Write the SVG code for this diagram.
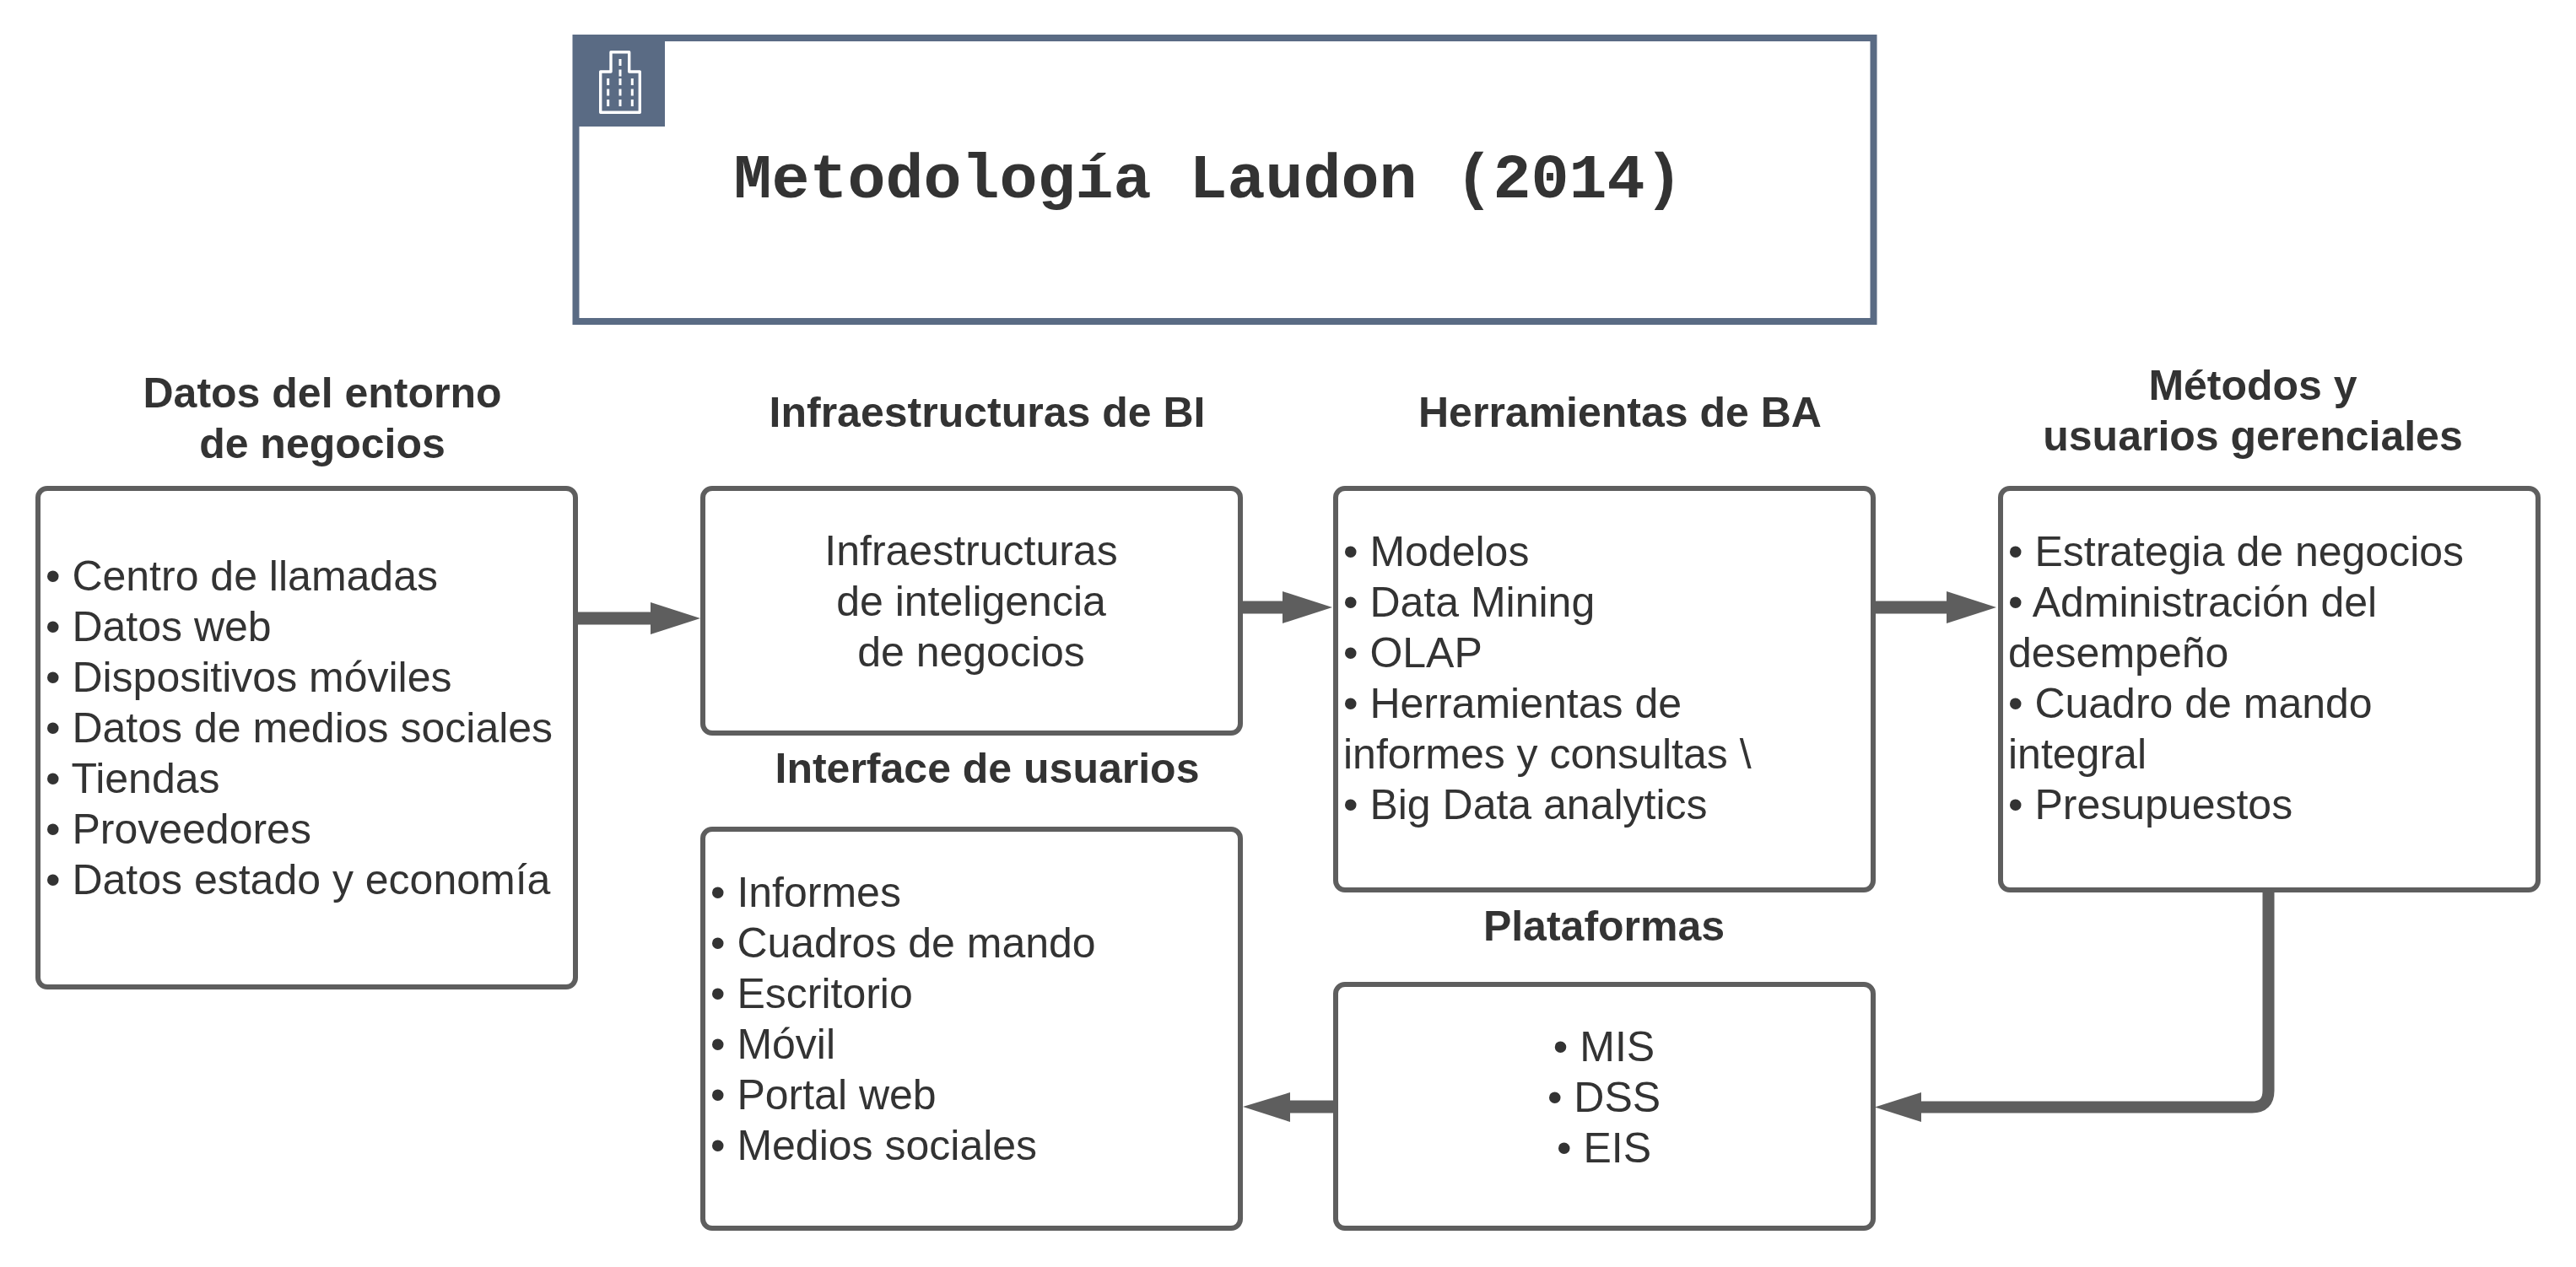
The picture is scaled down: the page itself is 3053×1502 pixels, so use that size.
<svg xmlns="http://www.w3.org/2000/svg" width="3053" height="1502" viewBox="0 0 3053 1502">
<style>
.box{fill:#fff;stroke:#5e5e5e;stroke-width:6}
.t{font-family:"Liberation Sans",Arial,sans-serif;font-size:50px;fill:#333}
.c{text-anchor:middle}
.h{font-weight:700}
.con{fill:none;stroke:#5e5e5e}
.ah{fill:#5e5e5e}
.w{fill:none;stroke:#fff;stroke-width:3.400;stroke-linejoin:round}
.d{fill:none;stroke:#fff;stroke-width:3;stroke-dasharray:8 4.500}
</style>
<rect width="3053" height="1502" fill="#fff"/>
<g id="title">
<rect x="682.500" y="45" width="1538" height="336" fill="#fff" stroke="#5a6b84" stroke-width="8"/>
<rect x="679" y="41" width="109" height="109" fill="#5a6b84"/>
<path class="w" d="M724 85V61.700H745.700V85H758.300V133.300H711.700V85Z"/>
<path class="d" d="M735 70V91M735 93V127M720.700 93V127M749.300 93V127"/>
<text x="1432" y="234" text-anchor="middle" font-family="'Liberation Mono','Courier New',monospace" font-size="75" font-weight="700" fill="#333">Metodología Laudon (2014)</text>
</g>
<g id="connectors">
<path class="con" stroke-width="15" d="M684 733H775"/><path class="ah" d="M830 733L771 714V752Z"/>
<path class="con" stroke-width="15" d="M1471 720H1530"/><path class="ah" d="M1579 720L1520 701V739Z"/>
<path class="con" stroke-width="15" d="M2222 720H2315"/><path class="ah" d="M2366 720L2307 701V739Z"/>
<path class="con" stroke-width="14" d="M2688.500 1057V1293Q2688.500 1312.500 2669 1312.500H2270"/><path class="ah" d="M2222 1312.500L2277 1295V1330Z"/>
<path class="con" stroke-width="15" d="M1581 1312H1520"/><path class="ah" d="M1473 1312L1529 1295V1330Z"/>
</g>
<g id="entorno">
<rect class="box" x="45" y="579" width="637" height="591" rx="11"/>
<text class="t h c" x="382" y="483">Datos del entorno</text>
<text class="t h c" x="382" y="543">de negocios</text>
<text class="t" x="54" y="700">• Centro de llamadas</text>
<text class="t" x="54" y="760">• Datos web</text>
<text class="t" x="54" y="820">• Dispositivos móviles</text>
<text class="t" x="54" y="880">• Datos de medios sociales</text>
<text class="t" x="54" y="940">• Tiendas</text>
<text class="t" x="54" y="1000">• Proveedores</text>
<text class="t" x="54" y="1060">• Datos estado y economía</text>
</g>
<g id="infraestructuras">
<rect class="box" x="833" y="579" width="637" height="290" rx="11"/>
<text class="t h c" x="1170" y="506">Infraestructuras de BI</text>
<text class="t c" x="1151" y="670">Infraestructuras</text>
<text class="t c" x="1151" y="730">de inteligencia</text>
<text class="t c" x="1151" y="790">de negocios</text>
</g>
<g id="herramientas">
<rect class="box" x="1583" y="579" width="637" height="476" rx="11"/>
<text class="t h c" x="1920" y="506">Herramientas de BA</text>
<text class="t" x="1592" y="671">• Modelos</text>
<text class="t" x="1592" y="731">• Data Mining</text>
<text class="t" x="1592" y="791">• OLAP</text>
<text class="t" x="1592" y="851">• Herramientas de</text>
<text class="t" x="1592" y="911">informes y consultas \</text>
<text class="t" x="1592" y="971">• Big Data analytics</text>
</g>
<g id="metodos">
<rect class="box" x="2371" y="579" width="637" height="476" rx="11"/>
<text class="t h c" x="2670" y="474">Métodos y</text>
<text class="t h c" x="2670" y="534">usuarios gerenciales</text>
<text class="t" x="2380" y="671">• Estrategia de negocios</text>
<text class="t" x="2380" y="731">• Administración del</text>
<text class="t" x="2380" y="791">desempeño</text>
<text class="t" x="2380" y="851">• Cuadro de mando</text>
<text class="t" x="2380" y="911">integral</text>
<text class="t" x="2380" y="971">• Presupuestos</text>
</g>
<g id="interface">
<rect class="box" x="833" y="983" width="637" height="473" rx="11"/>
<text class="t h c" x="1170" y="928">Interface de usuarios</text>
<text class="t" x="842" y="1075">• Informes</text>
<text class="t" x="842" y="1135">• Cuadros de mando</text>
<text class="t" x="842" y="1195">• Escritorio</text>
<text class="t" x="842" y="1255">• Móvil</text>
<text class="t" x="842" y="1315">• Portal web</text>
<text class="t" x="842" y="1375">• Medios sociales</text>
</g>
<g id="plataformas">
<rect class="box" x="1583" y="1167" width="637" height="289" rx="11"/>
<text class="t h c" x="1901" y="1115">Plataformas</text>
<text class="t c" x="1901" y="1258">• MIS</text>
<text class="t c" x="1901" y="1318">• DSS</text>
<text class="t c" x="1901" y="1378">• EIS</text>
</g>
</svg>
